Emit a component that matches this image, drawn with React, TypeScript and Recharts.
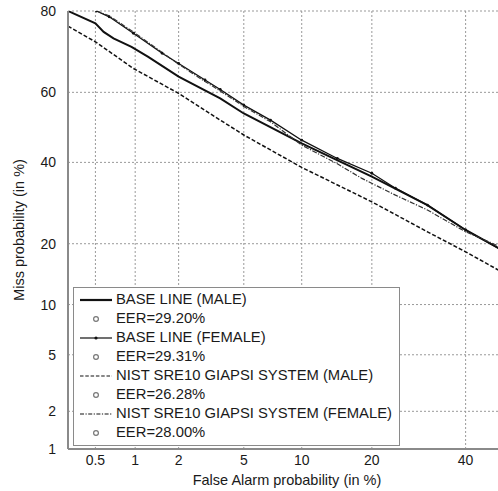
import React from "react";
import { CartesianGrid, Legend, Line, LineChart, XAxis, YAxis } from "recharts";

// DET plot: values are in %, axes use the normal-deviate (probit) warping
const X_TICKS = [0.5, 1, 2, 5, 10, 20, 40];
const Y_TICKS = [1, 2, 5, 10, 20, 40, 60, 80];

const baseMaleFA = [0.3, 0.5, 0.58, 0.69, 0.94, 1.24, 2.0, 3.65, 5, 10, 20, 31.1, 40, 50];
const baseMaleMiss = [80, 77.4, 75.5, 74.0, 72.0, 69.5, 64.3, 58.3, 54.0, 45.4, 36.1, 28.7, 22.9, 18.3];

const baseFemaleFA = [0.51, 0.64, 0.97, 1.55, 2.0, 2.95, 3.65, 5, 6.98, 10, 14.5, 20, 24.4, 31.1, 40, 50];
const baseFemaleMiss = [80, 78.8, 75.2, 70.4, 67.8, 63.4, 60.8, 56.4, 52.1, 46.3, 41.1, 37.0, 33.0, 28.7, 22.9, 18.3];

const nistMaleFA = [0.3, 0.5, 0.97, 2.0, 3.65, 5, 10, 20, 31.1, 40, 50];
const nistMaleMiss = [76.8, 73.2, 66.5, 59.7, 52.1, 47.8, 38.6, 29.5, 22.5, 18.4, 14.4];

const nistFemaleFA = [0.51, 0.64, 0.97, 1.55, 2.0, 2.95, 3.65, 5, 6.98, 10, 14.5, 18.3, 24.4, 31.1, 40, 50];
const nistFemaleMiss = [80, 79.0, 75.5, 70.6, 67.6, 63.0, 60.4, 56.0, 51.6, 44.9, 39.6, 35.6, 31.2, 27.5, 22.5, 18.9];

const SERIES_NAMES = [
  "BASE LINE (MALE)",
  "BASE LINE (FEMALE)",
  "NIST SRE10 GIAPSI SYSTEM (MALE)",
  "NIST SRE10 GIAPSI SYSTEM (FEMALE)",
];
const EER = ["29.20", "29.31", "26.28", "28.00"];

const FONT = "'Liberation Sans', Arial, sans-serif";
const AXIS_GRAY = "#8a8a8a";

// inverse normal CDF (Acklam)
function probit(p: number): number {
  const a = [-39.69683028665376, 220.9460984245205, -275.9285104469687, 138.357751867269, -30.66479806614716, 2.506628277459239];
  const b = [-54.47609879822406, 161.5858368580409, -155.6989798598866, 66.80131188771972, -13.28068155288572];
  const c = [-0.007784894002430293, -0.3223964580411365, -2.400758277161838, -2.549732539343734, 4.374664141464968, 2.938163982698783];
  const d = [0.007784695709041462, 0.3224671290700398, 2.445134137142996, 3.754408661907416];
  const lo = 0.02425;
  if (p < lo) {
    const q = Math.sqrt(-2 * Math.log(p));
    return (((((c[0] * q + c[1]) * q + c[2]) * q + c[3]) * q + c[4]) * q + c[5]) /
      ((((d[0] * q + d[1]) * q + d[2]) * q + d[3]) * q + 1);
  }
  if (p <= 1 - lo) {
    const q = p - 0.5;
    const r = q * q;
    return ((((((a[0] * r + a[1]) * r + a[2]) * r + a[3]) * r + a[4]) * r + a[5]) * q) /
      (((((b[0] * r + b[1]) * r + b[2]) * r + b[3]) * r + b[4]) * r + 1);
  }
  const q = Math.sqrt(-2 * Math.log(1 - p));
  return -(((((c[0] * q + c[1]) * q + c[2]) * q + c[3]) * q + c[4]) * q + c[5]) /
    ((((d[0] * q + d[1]) * q + d[2]) * q + d[3]) * q + 1);
}

const pct = (v: number) => probit(v / 100);

const toPoints = (fa: number[], miss: number[]) =>
  fa.map((f, i) => ({ x: pct(f), y: pct(miss[i]) }));

const nearestLabel = (ticks: number[]) => (v: number) => {
  let best = ticks[0];
  for (const t of ticks) if (Math.abs(pct(t) - v) < Math.abs(pct(best) - v)) best = t;
  return String(best);
};

function LegendBox() {
  const samples = ["solid", "dotted-solid", "dashed", "dashdot"];
  const rows: React.ReactNode[] = [];
  SERIES_NAMES.forEach((name, i) => {
    const kind = samples[i];
    rows.push(
      <div key={name} style={{ display: "flex", alignItems: "center", height: 19 }}>
        <svg width={36} height={19} style={{ flex: "none" }}>
          <line
            x1={2}
            x2={34}
            y1={10}
            y2={10}
            stroke="#111"
            strokeWidth={kind === "solid" ? 2.2 : 1.2}
            strokeDasharray={kind === "dashed" ? "3.5 1.8" : kind === "dashdot" ? "4 1.5 1.2 1.5" : undefined}
          />
          {kind === "dotted-solid" && <circle cx={18} cy={10} r={1.6} fill="#111" />}
        </svg>
        <span style={{ marginLeft: 2 }}>{name}</span>
      </div>,
    );
    rows.push(
      <div key={name + "-eer"} style={{ display: "flex", alignItems: "center", height: 19 }}>
        <svg width={36} height={19} style={{ flex: "none" }}>
          <circle cx={18} cy={10} r={2.4} fill="none" stroke="#777" strokeWidth={1.2} />
        </svg>
        <span style={{ marginLeft: 2 }}>EER={EER[i]}%</span>
      </div>,
    );
  });
  return (
    <div
      style={{
        boxSizing: "border-box",
        width: 327,
        height: 159,
        border: `1.5px solid ${AXIS_GRAY}`,
        background: "#fff",
        padding: "2px 0 0 4px",
        fontFamily: FONT,
        fontSize: 14.8,
        color: "#1a1a1a",
        lineHeight: "19px",
        whiteSpace: "nowrap",
      }}
    >
      {rows}
    </div>
  );
}

export default function App() {
  const tickStyle = { fill: "#1a1a1a", fontSize: 14, fontFamily: FONT };
  return (
    <div
      style={{
        position: "absolute",
        left: 0,
        top: 0,
        width: 498,
        height: 491,
        overflow: "hidden",
        background: "#fff",
      }}
    >
      <LineChart width={520} height={491} margin={{ top: 11, right: 14, left: 0, bottom: 0 }}>
        <CartesianGrid stroke="#999" strokeDasharray="2 2" strokeWidth={1} />
        <XAxis
          type="number"
          dataKey="x"
          domain={[pct(0.3), pct(50)]}
          ticks={X_TICKS.map(pct)}
          tickFormatter={nearestLabel(X_TICKS)}
          allowDataOverflow
          height={42}
          tickLine={false}
          tickSize={0}
          tickMargin={6}
          tick={tickStyle}
          axisLine={{ stroke: AXIS_GRAY, strokeWidth: 2 }}
          label={{
            value: "False Alarm probability (in %)",
            position: "insideBottom",
            offset: 6,
            style: { fill: "#1a1a1a", fontSize: 14.5, fontFamily: FONT },
          }}
        />
        <YAxis
          type="number"
          dataKey="y"
          domain={[pct(1), pct(80)]}
          ticks={Y_TICKS.map(pct)}
          tickFormatter={nearestLabel(Y_TICKS)}
          allowDataOverflow
          width={68}
          tickLine={false}
          tickSize={6}
          tickMargin={6}
          tick={tickStyle}
          axisLine={{ stroke: AXIS_GRAY, strokeWidth: 2 }}
          label={{
            value: "Miss probability (in %)",
            angle: -90,
            position: "center",
            dx: -15,
            style: { fill: "#1a1a1a", fontSize: 14.5, fontFamily: FONT, textAnchor: "middle" },
          }}
        />
        <Legend
          layout="horizontal"
          verticalAlign="middle"
          align="center"
          wrapperStyle={{ left: 73, top: 287, width: 327, height: 159 }}
          content={() => <LegendBox />}
        />
        <Line
          name={SERIES_NAMES[0]}
          data={toPoints(baseMaleFA, baseMaleMiss)}
          dataKey="y"
          type="linear"
          stroke="#111"
          strokeWidth={2}
          dot={false}
          isAnimationActive={false}
        />
        <Line
          name={SERIES_NAMES[1]}
          data={toPoints(baseFemaleFA, baseFemaleMiss)}
          dataKey="y"
          type="linear"
          stroke="#111"
          strokeWidth={1.3}
          dot={{ r: 1.4, fill: "#111", stroke: "none" }}
          isAnimationActive={false}
        />
        <Line
          name={SERIES_NAMES[2]}
          data={toPoints(nistMaleFA, nistMaleMiss)}
          dataKey="y"
          type="linear"
          stroke="#111"
          strokeWidth={1.5}
          strokeDasharray="4 2"
          dot={false}
          isAnimationActive={false}
        />
        <Line
          name={SERIES_NAMES[3]}
          data={toPoints(nistFemaleFA, nistFemaleMiss)}
          dataKey="y"
          type="linear"
          stroke="#333"
          strokeWidth={1.2}
          strokeDasharray="5 1.5 1.2 1.5"
          dot={false}
          isAnimationActive={false}
        />
      </LineChart>
    </div>
  );
}
